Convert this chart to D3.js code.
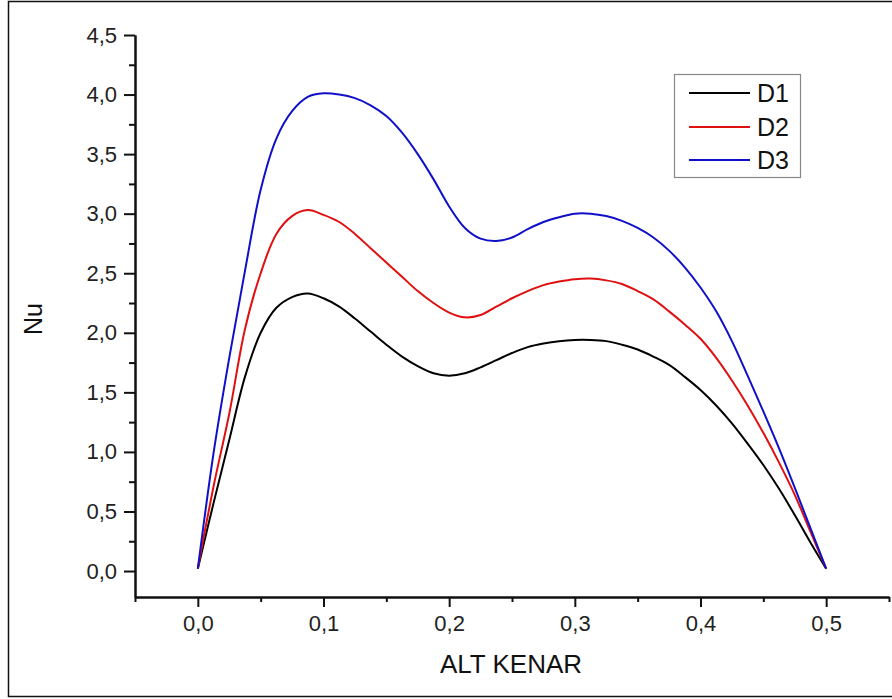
<!DOCTYPE html>
<html>
<head>
<meta charset="utf-8">
<script src="https://cdn.jsdelivr.net/npm/d3@7"></script>
<style>
  html, body { margin: 0; padding: 0; background: #fff; }
  svg { display: block; font-family: "Liberation Sans", Arial, sans-serif; }
</style>
</head>
<body>
<svg id="chart" width="892" height="699"></svg>
<script>
// ---- data ----
const altKenar = [0, 0.0125, 0.025, 0.0375, 0.05, 0.0625, 0.075, 0.0875, 0.1, 0.1125,
  0.125, 0.1375, 0.15, 0.1625, 0.175, 0.1875, 0.2, 0.2125, 0.225, 0.2375,
  0.25, 0.2625, 0.275, 0.2875, 0.3, 0.3125, 0.325, 0.3375, 0.35, 0.3625,
  0.375, 0.3875, 0.4, 0.4125, 0.425, 0.4375, 0.45, 0.4625, 0.475, 0.4875, 0.5];

const nuD1 = [0.02, 0.57, 1.10, 1.63, 2.00, 2.21, 2.30, 2.33, 2.29, 2.22,
  2.12, 2.01, 1.90, 1.80, 1.72, 1.66, 1.64, 1.66, 1.71, 1.77,
  1.83, 1.88, 1.91, 1.93, 1.94, 1.94, 1.93, 1.90, 1.86, 1.80,
  1.73, 1.63, 1.52, 1.39, 1.24, 1.07, 0.89, 0.69, 0.47, 0.24, 0.02];

const nuD2 = [0.02, 0.71, 1.32, 2.03, 2.50, 2.83, 2.98, 3.03, 2.99, 2.93,
  2.83, 2.71, 2.59, 2.47, 2.35, 2.25, 2.17, 2.13, 2.15, 2.22,
  2.29, 2.35, 2.40, 2.43, 2.45, 2.455, 2.44, 2.41, 2.35, 2.28,
  2.18, 2.07, 1.95, 1.79, 1.60, 1.39, 1.16, 0.91, 0.64, 0.33, 0.02];

const nuD3 = [0.02, 0.99, 1.79, 2.52, 3.20, 3.63, 3.86, 3.98, 4.01, 4.00,
  3.97, 3.91, 3.82, 3.68, 3.50, 3.29, 3.06, 2.88, 2.79, 2.77,
  2.80, 2.87, 2.93, 2.97, 3.00, 3.00, 2.98, 2.94, 2.88, 2.80,
  2.69, 2.55, 2.38, 2.18, 1.93, 1.64, 1.34, 1.03, 0.70, 0.36, 0.02];

const seriesNames = ["D1", "D2", "D3"];
const seriesColors = ["#000000", "#e01010", "#1010c8"];

const xMajorTicks = [0, 0.1, 0.2, 0.3, 0.4, 0.5];
const xMinorTicks = [-0.05, 0.05, 0.15, 0.25, 0.35, 0.45, 0.55];
const yMajorTicks = [0, 0.5, 1.0, 1.5, 2.0, 2.5, 3.0, 3.5, 4.0, 4.5];
const yMinorTicks = [0.25, 0.75, 1.25, 1.75, 2.25, 2.75, 3.25, 3.75, 4.25];

const xTitle = "ALT KENAR";
const yTitle = "Nu";

// ---- drawing ----
const svg = d3.select("#chart");
const locale = d3.formatLocale({ decimal: ",", thousands: ".", grouping: [3], currency: ["", ""] });
const fmt = locale.format(".1f");

const x = d3.scaleLinear().domain([-0.05, 0.55]).range([135, 889]);
const y = d3.scaleLinear().domain([-0.218, 4.5]).range([597, 35]);

// outer frame
svg.append("rect")
  .attr("x", 8.5).attr("y", 1.5)
  .attr("width", 900).attr("height", 695)
  .attr("fill", "none").attr("stroke", "#111").attr("stroke-width", 1.5);

const axisColor = "#111";
const labelColor = "#222";

function styleAxis(g) {
  g.attr("font-size", null).attr("font-family", null);
  g.selectAll("path.domain").attr("stroke", axisColor).attr("stroke-width", 2);
  g.selectAll(".tick line").attr("stroke", axisColor).attr("stroke-width", 2);
  g.selectAll(".tick text").attr("fill", labelColor)
    .style("font-size", "22px").style("font-family", "'Liberation Sans', Arial, sans-serif");
}

// minor ticks
svg.append("g").attr("transform", `translate(0,${y.range()[0]})`)
  .call(d3.axisBottom(x).tickValues(xMinorTicks).tickSize(5).tickSizeOuter(0).tickFormat(""))
  .call(styleAxis);
svg.append("g").attr("transform", `translate(${x.range()[0]},0)`)
  .call(d3.axisLeft(y).tickValues(yMinorTicks).tickSize(6).tickSizeOuter(0).tickFormat(""))
  .call(styleAxis);

// major ticks
svg.append("g").attr("transform", `translate(0,${y.range()[0]})`)
  .call(d3.axisBottom(x).tickValues(xMajorTicks).tickSize(10).tickSizeOuter(0).tickPadding(8).tickFormat(fmt))
  .call(styleAxis);
svg.append("g").attr("transform", `translate(${x.range()[0]},0)`)
  .call(d3.axisLeft(y).tickValues(yMajorTicks).tickSize(11).tickSizeOuter(0).tickPadding(7).tickFormat(fmt))
  .call(styleAxis);

// axis titles
svg.append("text")
  .attr("x", 511).attr("y", 673)
  .attr("text-anchor", "middle")
  .attr("font-size", 26).attr("fill", "#111")
  .text(xTitle);
svg.append("text")
  .attr("transform", "translate(42,319) rotate(-90)")
  .attr("text-anchor", "middle")
  .attr("font-size", 25).attr("fill", "#111")
  .text(yTitle);

// lines
const series = [nuD1, nuD2, nuD3];
const line = d3.line()
  .x(d => x(d[0]))
  .y(d => y(d[1]))
  .curve(d3.curveCatmullRom.alpha(0.5));

series.forEach((vals, i) => {
  const pts = altKenar.map((xv, j) => [xv, vals[j]]);
  svg.append("path")
    .datum(pts)
    .attr("d", line)
    .attr("fill", "none")
    .attr("stroke", seriesColors[i])
    .attr("stroke-width", 2)
    .attr("stroke-linejoin", "round");
});

// legend
const legend = svg.append("g");
legend.append("rect")
  .attr("x", 674.5).attr("y", 74.5)
  .attr("width", 126).attr("height", 103)
  .attr("fill", "#fff").attr("stroke", "#888").attr("stroke-width", 1.2);
const legendY = [93, 127, 160];
seriesNames.forEach((name, i) => {
  legend.append("line")
    .attr("x1", 689).attr("x2", 750)
    .attr("y1", legendY[i]).attr("y2", legendY[i])
    .attr("stroke", seriesColors[i]).attr("stroke-width", 2);
  legend.append("text")
    .attr("x", 757).attr("y", legendY[i])
    .attr("dy", "0.36em")
    .attr("font-size", 25).attr("fill", "#111")
    .text(name);
});
</script>
</body>
</html>
